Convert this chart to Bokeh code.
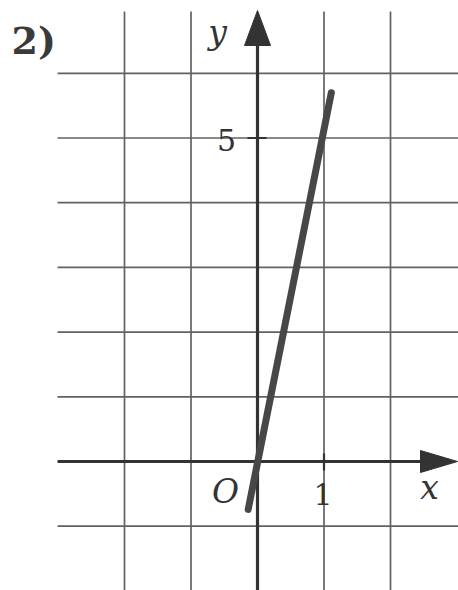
from bokeh.plotting import figure
from bokeh.models import Range1d
from bokeh.core.properties import value
from bokeh.embed import file_html
from bokeh.resources import INLINE

# ---- data ----
vert_grid = [-2, -1, 1, 2]
horiz_grid = [-1, 1, 2, 3, 4, 5, 6]
line_x = [-0.14, 1.11]               # graph of y = 5x (segment)
line_y = [-0.74, 5.70]
ytick_labels = ["5"]
ytick_vals = [5]
xtick_labels = ["1"]
xtick_vals = [1]

# ---- layout ----
W, H = 458, 590
left, top = 0, 0         # page px of canvas corner
ox, oy = 257, 461        # page px of origin
ux, uy = 66.5, 64.7      # px per unit
xs, xe = (left - ox) / ux, (left + W - ox) / ux
ye, ys = (oy - top) / uy, (oy - top - H) / uy

p = figure(width=W, height=H, output_backend="svg", toolbar_location=None,
           x_range=Range1d(xs, xe), y_range=Range1d(ys, ye),
           min_border=0, outline_line_color=None, background_fill_color="white",
           border_fill_color="white")
p.axis.visible = False
p.grid.visible = False

grid_col = "#626262"
ink = "#333333"

x_left = (57 - ox) / ux
x_tip = (457 - ox) / ux
y_tip = (oy - 10) / uy
y_gtop = (oy - 11) / uy

# grid
p.segment(x0=vert_grid, y0=[y_gtop] * len(vert_grid), x1=vert_grid, y1=[ys - 1] * len(vert_grid),
          line_color=grid_col, line_width=1.7)
p.segment(x0=[x_left] * len(horiz_grid), y0=horiz_grid, x1=[xe + 1] * len(horiz_grid), y1=horiz_grid,
          line_color=grid_col, line_width=1.7)

# axes
p.segment(x0=[x_left], y0=[0], x1=[x_tip - 30 / ux], y1=[0], line_color=ink, line_width=3.2)
p.segment(x0=[0], y0=[ys - 1], x1=[0], y1=[y_tip - 30 / uy], line_color=ink, line_width=3.2)
# arrow heads
p.patch(x=[x_tip, x_tip - 37 / ux, x_tip - 37 / ux], y=[0, 11 / uy, -11 / uy], color=ink, line_width=1)
p.patch(x=[0, -13 / ux, 13 / ux], y=[y_tip, y_tip - 35 / uy, y_tip - 35 / uy], color=ink, line_width=1)

# tick marks
p.segment(x0=[-10 / ux] * len(ytick_vals), y0=ytick_vals, x1=[9 / ux] * len(ytick_vals), y1=ytick_vals,
          line_color=ink, line_width=2.2)
p.segment(x0=xtick_vals, y0=[8 / uy] * len(xtick_vals), x1=xtick_vals, y1=[-9 / uy] * len(xtick_vals),
          line_color=ink, line_width=2.2)

# graph
p.line(line_x, line_y, line_color="#474747", line_width=7, line_cap="round")

serif = value("DejaVu Serif")
p.text(x=[0] * len(ytick_vals), y=ytick_vals, text=ytick_labels, text_font=serif, text_font_size="30px",
       text_color=ink, text_align="center", text_baseline="alphabetic", x_offset=-31, y_offset=2)
p.text(x=xtick_vals, y=[0] * len(xtick_vals), text=xtick_labels, text_font=serif, text_font_size="30px",
       text_color=ink, text_align="center", text_baseline="alphabetic", x_offset=-1, y_offset=32)
p.text(x=[0], y=[0], text=["O"], text_font=serif, text_font_style="italic", text_font_size="33px",
       text_color=ink, text_align="center", text_baseline="alphabetic", x_offset=-32, y_offset=30)
p.text(x=[x_tip], y=[0], text=["x"], text_font=serif, text_font_style="italic", text_font_size="33px",
       text_color=ink, text_align="center", text_baseline="alphabetic", x_offset=-28, y_offset=26)
p.text(x=[0], y=[y_tip], text=["y"], text_font=serif, text_font_style="italic", text_font_size="33px",
       text_color=ink, text_align="center", text_baseline="alphabetic", x_offset=-40, y_offset=22)
p.text(x=[xs], y=[ye], text=["2)"], text_font=serif, text_font_style="bold", text_font_size="38px",
       text_color="#3a3a3a", text_align="left", text_baseline="alphabetic", x_offset=11, y_offset=40)

open("out.html", "w").write(file_html(p, INLINE))
